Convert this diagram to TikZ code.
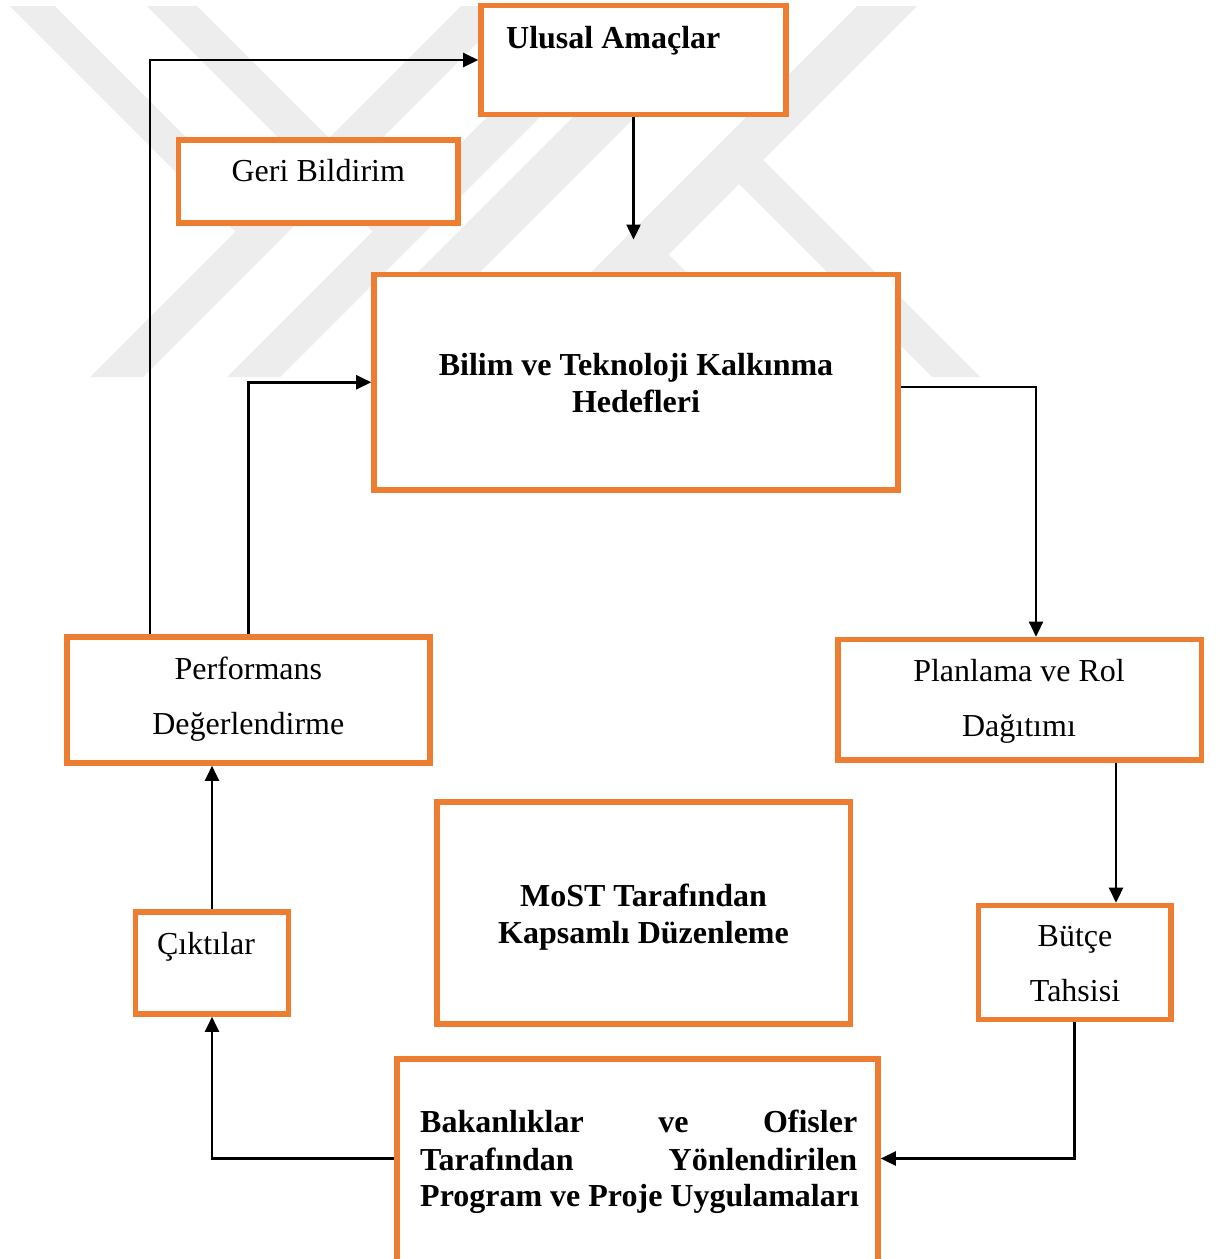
\documentclass[tikz,border=0pt]{standalone}
\usepackage{fontspec}
\setmainfont{Liberation Serif}
\usetikzlibrary{arrows.meta}
\definecolor{boxorange}{HTML}{ED7D31}
\definecolor{wmgray}{RGB}{237,237,237}
\begin{document}
\begin{tikzpicture}[x=1pt,y=-1pt,
  box/.style={draw=boxorange, line width=5.6pt, fill=white, rectangle, inner sep=0pt},
  conn/.style={line width=2.5pt, -{Triangle[length=15pt,width=14pt]}},
  txt/.style={font=\fontsize{32}{37}\selectfont, inner sep=0pt, anchor=base},
  btxt/.style={txt, font=\fontsize{32}{37}\selectfont\bfseries},
  wm/.style={fill=wmgray, draw=none}]
\useasboundingbox (0,0) rectangle (1218,1259);
\fill[white] (0,0) rectangle (1218,1259);
\clip (0,0) rectangle (1218,1259);
% watermark
\fill[wm] (10,6) -- (55,6) -- (258,209) -- (235.5,231.5) -- cycle;
\fill[wm] (147,6) -- (197,6) -- (397.5,206.5) -- (372.5,231.5) -- cycle;
\fill[wm] (90,377) -- (143,377) -- (514,6) -- (461,6) -- cycle;
\fill[wm] (227,377) -- (280,377) -- (651,6) -- (598,6) -- cycle;
\fill[wm] (400,290) -- (462,290) -- (652,100) -- (590,100) -- cycle;
\fill[wm] (486,377) -- (546,377) -- (917,6) -- (857,6) -- cycle;
\fill[wm] (763,160) -- (980,377) -- (932,377) -- (739,184) -- cycle;
\fill[wm] (667,253) -- (717,303) -- (617,303) -- cycle;
% boxes
\node[box, minimum width=305pt, minimum height=109pt] (ua) at (633.5,60) {};
\node[box, minimum width=279.5pt, minimum height=83pt] (gb) at (318.25,181.5) {};
\node[box, minimum width=524pt, minimum height=215.5pt] (bt) at (636,382.25) {};
\node[box, minimum width=363pt, minimum height=126.3pt] (pd) at (248.5,699.85) {};
\node[box, minimum width=363.3pt, minimum height=120.5pt] (pr) at (1019.65,699.75) {};
\node[box, minimum width=413.8pt, minimum height=222pt] (most) at (643.6,913) {};
\node[box, minimum width=153pt, minimum height=102pt] (ck) at (212,963) {};
\node[box, minimum width=192.7pt, minimum height=114pt] (bu) at (1074.65,962.5) {};
\node[box, minimum width=481pt, minimum height=203pt] (bk) at (637.5,1160.5) {};
% texts
\node[btxt, anchor=base west] (uat) at (506,48) {Ulusal Amaçlar};
\node[txt] (gbt) at (318.3,181.7) {Geri Bildirim};
\node[btxt] (bt1) at (636,375) {Bilim ve Teknoloji Kalkınma};
\node[btxt] (bt2) at (636,412) {Hedefleri};
\node[txt] (pd1) at (248.3,679) {Performans};
\node[txt] (pd2) at (248.3,734) {Değerlendirme};
\node[txt] (pr1) at (1019,681.7) {Planlama ve Rol};
\node[txt] (pr2) at (1019,736.7) {Dağıtımı};
\node[btxt] (m1) at (643.5,906) {MoST Tarafından};
\node[btxt] (m2) at (643.5,943) {Kapsamlı Düzenleme};
\node[txt] (ck1) at (206,954) {Çıktılar};
\node[txt] (bu1) at (1075,946) {Bütçe};
\node[txt] (bu2) at (1075,1001.7) {Tahsisi};
\node[btxt, anchor=base west] (bk1) at (420,1132.7) {\hbox to 437pt{Bakanlıklar\hfill ve\hfill Ofisler}};
\node[btxt, anchor=base west] (bk2) at (420,1170) {\hbox to 437pt{Tarafından\hfill Yönlendirilen}};
\node[btxt, anchor=base west] (bk3) at (420,1206.7) {Program ve Proje Uygulamaları};
% connectors
\coordinate (uaend) at (633.5,239.5);
\draw[conn] (ua.south) -- (uaend);
\draw[conn] ([xshift=-98.5pt]pd.north) |- (ua.west);
\draw[conn] (pd.north) |- (bt.west);
\draw[conn] ([yshift=-4.5pt]bt.east) -| ([xshift=16.35pt]pr.north);
\draw[conn] ([xshift=96.35pt]pr.south) -- ([xshift=96.35pt]pr.south |- bu.north);
\draw[conn] (bu.south) |- ([yshift=2pt]bk.east);
\draw[conn] ([yshift=2pt]bk.west) -| (ck.south);
\draw[conn] (ck.north) -- (ck.north |- pd.south);
\end{tikzpicture}
\end{document}
